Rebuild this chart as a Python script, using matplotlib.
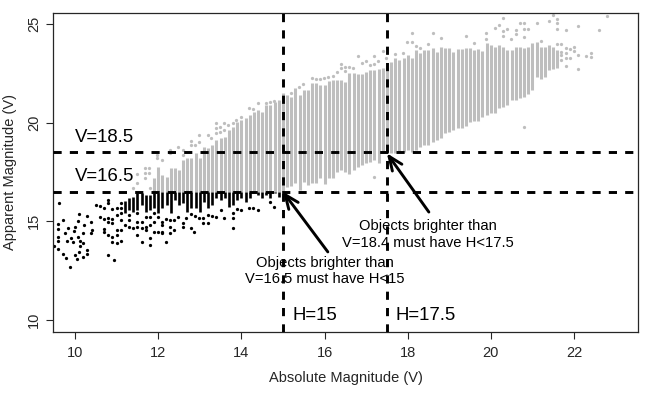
import matplotlib
matplotlib.use('Agg')
import matplotlib.pyplot as plt

plt.rcParams['font.family'] = ['Liberation Sans', 'DejaVu Sans']

# gray stripes: one column per 0.1 mag of H, top and bottom
gray_h = [11.9, 12.0, 12.1, 12.2, 12.3, 12.4, 12.5, 12.6, 12.7, 12.8, 12.9, 13.0, 13.1, 13.2, 13.3, 13.4, 13.5, 13.6, 13.7, 13.8,
          13.9, 14.0, 14.1, 14.2, 14.3, 14.4, 14.5, 14.6, 14.7, 14.8, 14.9, 15.0, 15.1, 15.2, 15.3, 15.4, 15.5, 15.6, 15.7, 15.8,
          15.9, 16.0, 16.1, 16.2, 16.3, 16.4, 16.5, 16.6, 16.7, 16.8, 16.9, 17.0, 17.1, 17.2, 17.3, 17.4, 17.5, 17.6, 17.7, 17.8,
          17.9, 18.0, 18.1, 18.2, 18.3, 18.4, 18.5, 18.6, 18.7, 18.8, 18.9, 19.0, 19.1, 19.2, 19.3, 19.4, 19.5, 19.6, 19.7, 19.8,
          19.9, 20.0, 20.1, 20.2, 20.3, 20.4, 20.5, 20.6, 20.7, 20.8, 20.9, 21.0, 21.1, 21.2, 21.3, 21.4, 21.5, 21.6]
gray_top = [17.18, 17.77, 17.35, 17.26, 17.69, 17.69, 17.6, 18.1, 18.19, 18.19, 18.45, 18.19, 18.79, 18.7, 18.87, 19.12, 19.21, 19.29, 19.63, 19.8,
            20.05, 20.14, 20.22, 20.39, 20.56, 20.64, 20.56, 20.9, 20.9, 21.07, 21.15, 21.49, 21.4, 21.3, 21.74, 21.4, 21.65, 21.65, 21.99, 21.99,
            21.9, 21.9, 22.13, 22.16, 22.16, 22.16, 22.08, 22.5, 22.5, 22.46, 22.46, 22.58, 22.67, 22.67, 22.7, 22.75, 22.84, 23.09, 23.26, 23.2,
            23.26, 23.43, 23.26, 23.69, 23.52, 23.69, 23.69, 23.77, 23.6, 23.85, 23.77, 23.77, 23.6, 23.72, 23.72, 23.8, 23.77, 23.69, 23.72, 23.65,
            24.02, 23.94, 23.85, 23.94, 23.85, 23.69, 23.69, 23.85, 23.85, 23.77, 23.85, 24.02, 24.1, 23.85, 23.85, 23.94, 23.85, 23.69]
gray_low = [16.5, 16.5, 16.5, 16.5, 16.5, 16.5, 16.5, 16.5, 16.5, 16.5, 16.5, 16.5, 16.5, 16.5, 16.5, 16.5, 16.5, 16.5, 16.5, 16.5,
            16.5, 16.5, 16.5, 16.5, 16.5, 16.5, 16.5, 16.5, 16.5, 16.5, 16.5, 16.5, 16.76, 16.79, 16.93, 16.59, 17.0, 16.84, 16.96, 16.93,
            17.18, 16.89, 17.18, 17.18, 17.52, 17.6, 17.52, 17.4, 17.6, 17.77, 17.86, 17.97, 18.03, 18.11, 17.94, 18.45, 18.45, 18.45, 18.45, 18.53,
            18.53, 18.62, 18.53, 18.62, 18.78, 18.87, 18.87, 19.04, 19.12, 19.21, 19.46, 19.55, 19.63, 19.71, 19.71, 19.83, 20.05, 20.1, 20.1, 20.31,
            20.39, 20.48, 20.51, 20.73, 20.78, 20.9, 21.15, 21.15, 21.24, 21.32, 21.46, 21.66, 22.33, 22.2, 22.3, 22.67, 22.7, 22.76]

# gray single points around the stripes
gray_pts_h = [11.48, 11.68, 11.68, 11.68, 11.79, 11.79, 11.48, 11.4, 11.8, 11.98, 11.98, 12.08, 12.28, 12.28, 12.48, 12.59, 12.59, 12.79, 12.79, 12.88,
              12.99, 12.99, 13.19, 13.28, 13.39, 13.39, 13.39, 13.48, 13.48, 13.59, 13.59, 13.68, 13.79, 13.88, 13.99, 14.19, 14.29, 14.39, 14.59, 14.69,
              14.79, 15.19, 15.39, 15.49, 15.71, 15.8, 15.89, 15.99, 16.09, 16.2, 16.29, 16.4, 16.4, 16.49, 16.49, 16.6, 16.69, 16.8, 16.89, 17.0,
              17.09, 17.2, 17.2, 17.29, 17.4, 17.49, 17.69, 17.89, 17.2, 17.99, 18.1, 18.1, 18.19, 18.29, 18.49, 18.6, 18.8, 19.4, 19.6, 19.89,
              19.89, 20.09, 20.2, 20.29, 20.29, 20.29, 20.4, 20.49, 20.6, 20.6, 20.69, 20.8, 20.8, 20.89, 20.8, 21.1, 21.2, 21.4, 21.5, 21.6,
              21.6, 21.6, 21.8, 22.1, 22.6, 22.79, 21.6, 21.7, 21.7, 21.7, 21.7, 21.8, 21.8, 21.8, 21.8, 21.9, 21.9, 22.0, 22.0, 22.1,
              22.1, 22.3, 22.4, 22.4, 20.8]
gray_pts_v = [17.4, 17.69, 17.43, 17.18, 17.69, 17.43, 16.93, 16.67, 16.67, 18.36, 18.19, 18.1, 18.62, 18.45, 18.75, 18.62, 18.36, 19.09, 18.87, 18.87,
              19.38, 19.04, 19.38, 19.21, 19.97, 19.71, 19.46, 19.8, 19.55, 19.97, 19.63, 19.88, 19.97, 20.14, 20.3, 20.73, 20.68, 20.98, 20.98, 21.07,
              21.12, 21.52, 21.82, 21.96, 22.29, 22.19, 22.19, 22.24, 22.33, 22.36, 22.55, 22.95, 22.75, 22.8, 22.63, 22.84, 22.75, 23.39, 23.04, 23.14,
              22.92, 23.39, 22.97, 23.12, 23.63, 23.26, 23.46, 23.54, 17.23, 24.07, 24.53, 24.11, 23.89, 23.8, 23.99, 24.53, 24.31, 24.4, 24.02, 24.53,
              24.24, 24.78, 24.95, 25.29, 24.65, 24.4, 24.73, 24.23, 24.7, 24.48, 25.04, 25.04, 24.75, 24.73, 24.36, 25.07, 24.16, 25.16, 25.46, 25.26,
              25.04, 24.75, 24.7, 24.92, 24.7, 25.41, 23.99, 23.97, 23.6, 23.43, 23.18, 23.77, 23.52, 23.26, 22.88, 23.74, 23.26, 23.85, 23.65, 23.43,
              22.71, 23.4, 23.55, 23.35, 19.77]

# black runs below V=16.5
black_run_h = [11.2, 11.3, 11.4, 11.5, 11.6, 11.7, 11.8, 11.9, 12.0, 12.1, 12.2, 12.3, 12.4, 12.5, 12.6, 12.7, 12.8, 12.9, 13.0, 13.1,
               13.2, 13.3, 13.4, 13.5, 13.6, 13.7, 13.8, 13.9, 14.0, 14.1, 14.2, 14.3, 14.4, 14.5, 14.6, 14.7, 14.8, 14.9]
black_run_top = [16.05, 16.17, 16.25, 16.42, 16.45, 16.34, 16.34, 16.42, 16.42, 16.5, 16.5, 16.5, 16.5, 16.5, 16.5, 16.5, 16.5, 16.5, 16.5, 16.5,
                 16.5, 16.5, 16.5, 16.5, 16.5, 16.5, 16.5, 16.5, 16.5, 16.5, 16.5, 16.5, 16.5, 16.5, 16.5, 16.5, 16.5, 16.5]
black_run_low = [15.41, 15.58, 15.49, 15.58, 15.83, 15.49, 15.58, 15.66, 15.41, 15.66, 15.83, 15.41, 16.08, 15.83, 15.91, 15.49, 15.66, 15.66, 15.49, 16.0,
                 15.66, 15.83, 16.17, 16.08, 16.17, 15.74, 15.83, 16.08, 16.17, 16.0, 16.17, 16.42, 16.34, 16.17, 16.34, 16.17, 16.42, 16.25]

# black single points
black_h = [9.62, 9.70, 10.10, 10.29, 10.08, 10.38, 10.21, 10.00, 9.98, 9.82, 9.58, 9.58, 9.76, 10.19, 10.40, 10.38, 10.08, 9.80, 9.90, 9.94,
           9.59, 9.59, 9.49, 10.12, 10.18, 10.11, 9.60, 9.70, 9.79, 10.10, 10.28, 10.28, 10.00, 10.04, 10.18, 9.89, 10.79, 10.93,
           10.5, 10.6, 10.6, 10.7, 10.7, 10.7, 10.7, 10.8, 10.8, 10.8, 10.8, 10.8, 10.9, 10.9, 10.9, 10.9, 10.9,
           11.0, 11.0, 11.0, 11.0, 11.0, 11.1, 11.1, 11.1, 11.1, 11.1, 11.1, 11.2, 11.3, 11.3, 11.3, 11.4,
           11.5, 11.5, 11.5, 11.5, 11.6, 11.6, 11.6, 11.7, 11.7, 11.7, 11.8, 11.8, 11.8, 11.8, 11.9, 11.9, 11.9, 12.0, 12.0, 12.1, 12.1,
           12.08, 12.08, 12.19, 12.19, 12.28, 12.38, 12.28, 12.28, 12.38, 12.48, 12.59, 12.59, 12.68, 12.79, 12.79, 12.88, 12.87, 12.99, 13.08, 13.08,
           13.19, 13.19, 13.29, 13.39, 13.5, 13.59, 13.79, 13.79, 13.79, 13.89, 13.99, 14.19, 14.29, 14.39, 14.69, 14.79]
black_v = [15.95, 15.07, 15.36, 15.25, 15.04, 14.95, 14.83, 14.73, 14.51, 14.65, 14.85, 14.60, 14.43, 14.41, 14.55, 14.39, 14.21, 14.00, 14.14, 13.97,
           14.19, 14.0, 13.77, 13.99, 13.92, 13.77, 13.58, 13.36, 13.13, 13.43, 13.55, 13.35, 13.30, 13.08, 13.21, 12.67, 13.28, 13.03,
           15.83, 15.78, 15.24, 15.66, 15.1, 14.6, 14.48, 16.08, 15.95, 15.19, 14.99, 14.31, 15.61, 15.1, 14.93, 14.19, 13.97,
           15.66, 15.32, 14.56, 14.31, 13.89, 15.91, 15.66, 15.41, 15.07, 14.56, 14.02, 14.82, 15.32, 15.07, 14.73, 14.65,
           15.41, 14.99, 14.73, 14.31, 14.99, 14.65, 13.97, 15.24, 14.73, 14.56, 15.24, 14.82, 14.14, 13.8, 15.41, 14.99, 14.48, 15.24, 14.48, 14.99, 14.48,
           14.82, 14.39, 13.94, 15.1, 15.07, 15.07, 14.73, 14.39, 14.56, 15.2, 14.9, 14.73, 15.15, 15.37, 14.68, 15.29, 14.48, 15.15, 15.15, 14.93,
           15.32, 14.93, 15.27, 15.2, 15.58, 15.15, 15.41, 15.15, 14.68, 15.61, 15.58, 15.66, 15.66, 15.58, 16.0, 15.71]

v_limits = [16.5, 18.5]
h_limits = [15, 17.5]
x_ticks = [10, 12, 14, 16, 18, 20, 22]
y_ticks = [10, 15, 20, 25]

GRAY = '#BEBEBE'
DARK = '#262626'

fig = plt.figure(figsize=(6.64, 3.99), dpi=100)
ax = fig.add_axes([53 / 664, 67 / 399, 585 / 664, 319 / 399])

ax.vlines(gray_h, gray_low, gray_top, color=GRAY, linewidth=2.2, zorder=1)
ax.scatter(gray_pts_h, gray_pts_v, s=5.5, color=GRAY, linewidths=0, zorder=1)
ax.vlines(black_run_h, black_run_low, black_run_top, color='black', linewidth=1.9, zorder=2)
ax.scatter(black_h, black_v, s=5.5, color='black', linewidths=0, zorder=2)

ax.set_xlim(9.47, 23.54)
ax.set_ylim(9.39, 25.56)
ax.set_xticks(x_ticks)
ax.set_yticks(y_ticks)
ax.tick_params(axis='x', length=5, width=0.8, color=DARK, labelsize=10.5, labelcolor=DARK, pad=5)
ax.tick_params(axis='y', length=5, width=0.8, color=DARK, labelsize=10.5, labelcolor=DARK, pad=3.5)
for lab in ax.get_yticklabels():
    lab.set_rotation(90)
    lab.set_va('center')
for s in ax.spines.values():
    s.set_linewidth(0.9)
    s.set_color(DARK)

ax.set_xlabel('Absolute Magnitude (V)', fontsize=10.5, color=DARK, labelpad=8)
ax.set_ylabel('Apparent Magnitude (V)', fontsize=10.5, color=DARK, labelpad=7)

# labels go under the dashed lines, as in the original
ax.text(10.0, 19.27, 'V=18.5', fontsize=13.4, color='black', va='center', zorder=3)
ax.text(10.0, 17.25, 'V=16.5', fontsize=13.4, color='black', va='center', zorder=3)
ax.text(15.22, 10.25, 'H=15', fontsize=13.4, color='black', va='center', zorder=3)
ax.text(17.7, 10.25, 'H=17.5', fontsize=13.4, color='black', va='center', zorder=3)
ax.text(18.49, 14.33, 'Objects brighter than\nV=18.4 must have H<17.5', fontsize=10.6, color='black',
        ha='center', va='center', linespacing=1.25, zorder=3)
ax.text(16.0, 12.48, 'Objects brighter than\nV=16.5 must have H<15', fontsize=10.6, color='black',
        ha='center', va='center', linespacing=1.25, zorder=3)

for v in v_limits:
    ax.axhline(v, color='black', linewidth=2.1, linestyle=(0, (2.8, 2.8)), dash_capstyle='butt', zorder=4)
for h in h_limits:
    ax.axvline(h, color='black', linewidth=2.1, linestyle=(0, (2.8, 2.8)), dash_capstyle='butt', zorder=4)

arrow = dict(arrowstyle='->,head_length=1.0,head_width=0.42', color='black', lw=2.1,
             mutation_scale=10, shrinkA=0, shrinkB=0)
ax.annotate('', xy=(15.0, 16.5), xytext=(16.08, 13.45), arrowprops=arrow, zorder=5)
ax.annotate('', xy=(17.5, 18.45), xytext=(18.51, 15.47), arrowprops=arrow, zorder=5)

plt.savefig('out.png', dpi=100)
